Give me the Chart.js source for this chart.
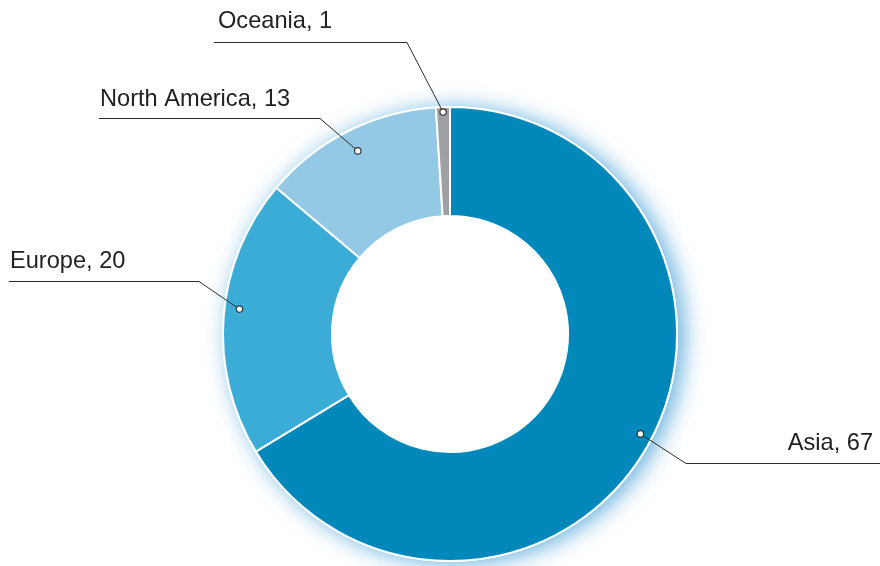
<!DOCTYPE html>
<html>
<head>
<meta charset="utf-8">
<script src="https://cdn.jsdelivr.net/npm/chart.js@4/dist/chart.umd.min.js"></script>
<style>
  html, body { margin: 0; padding: 0; background: #ffffff; }
  #wrap { width: 880px; height: 566px; position: relative; }
</style>
</head>
<body>
<div id="wrap"><canvas id="c" width="880" height="566"></canvas></div>
<script>
const categories = ["Asia", "Europe", "North America", "Oceania"];
const values = [67, 20, 13, 1];
const sliceColors = ["#0088BB", "#3BACD5", "#93C9E5", "#9EA0A3"];

// label layout (positions only)
const labelLayout = [
  { dotInset: 12, angleShift: -0.03, elbow: [686, 463], lineEnd: 880, align: "right", textX: 873, baselineGap: 13 },
  { dotInset: 15, angleShift: 0.04, elbow: [199, 281], lineEnd: 9, align: "left", textX: 10, baselineGap: 13 },
  { dotInset: 22, angleShift: 0, elbow: [320, 118], lineEnd: 99, align: "left", textX: 100, baselineGap: 12 },
  { dotInset: 5, angleShift: 0, elbow: [407, 42], lineEnd: 214, align: "left", textX: 218, baselineGap: 14 }
];

const glowPlugin = {
  id: "glow",
  beforeDatasetsDraw(chart) {
    const meta = chart.getDatasetMeta(0);
    const arc = meta.data[0];
    if (!arc) return;
    const { x, y, outerRadius } = arc.getProps(["x", "y", "outerRadius"], true);
    const ctx = chart.ctx;
    ctx.save();
    ctx.shadowColor = "rgba(20,135,205,0.65)";
    ctx.shadowBlur = 22;
    ctx.shadowOffsetX = 6;
    ctx.shadowOffsetY = 2;
    ctx.fillStyle = "#ffffff";
    ctx.beginPath();
    ctx.arc(x, y, outerRadius + 1, 0, Math.PI * 2);
    ctx.fill();
    ctx.restore();
  }
};

const leaderPlugin = {
  id: "leaders",
  afterDatasetsDraw(chart) {
    const meta = chart.getDatasetMeta(0);
    const ctx = chart.ctx;
    meta.data.forEach((arc, i) => {
      const p = arc.getProps(["x", "y", "startAngle", "endAngle", "outerRadius"], true);
      const L = labelLayout[i];
      const mid = (p.startAngle + p.endAngle) / 2 + L.angleShift;
      const r = p.outerRadius - L.dotInset;
      const dx = p.x + Math.cos(mid) * r;
      const dy = p.y + Math.sin(mid) * r;
      ctx.save();
      ctx.strokeStyle = "#2b2b2b";
      ctx.lineWidth = 1;
      ctx.beginPath();
      ctx.moveTo(dx, dy);
      ctx.lineTo(L.elbow[0], L.elbow[1] + 0.5);
      ctx.lineTo(L.lineEnd, L.elbow[1] + 0.5);
      ctx.stroke();
      ctx.beginPath();
      ctx.arc(dx, dy, 3.2, 0, Math.PI * 2);
      ctx.fillStyle = "#ffffff";
      ctx.fill();
      ctx.lineWidth = 1.2;
      ctx.strokeStyle = "#333333";
      ctx.stroke();
      ctx.fillStyle = "#222222";
      ctx.font = "23.6px 'Liberation Sans', Arial, sans-serif";
      ctx.textAlign = L.align;
      ctx.textBaseline = "alphabetic";
      ctx.fillText(categories[i] + ", " + values[i], L.textX, L.elbow[1] - L.baselineGap);
      ctx.restore();
    });
  }
};

new Chart(document.getElementById("c"), {
  type: "doughnut",
  data: {
    labels: categories,
    datasets: [{
      data: values,
      backgroundColor: sliceColors,
      borderColor: "#ffffff",
      borderWidth: 2,
      hoverOffset: 0
    }]
  },
  options: {
    responsive: false,
    animation: false,
    cutout: "52%",
    layout: { padding: { top: 106, bottom: 4, left: 222, right: 202 } },
    plugins: {
      legend: { display: false },
      tooltip: { enabled: false }
    }
  },
  plugins: [glowPlugin, leaderPlugin]
});
</script>
</body>
</html>
